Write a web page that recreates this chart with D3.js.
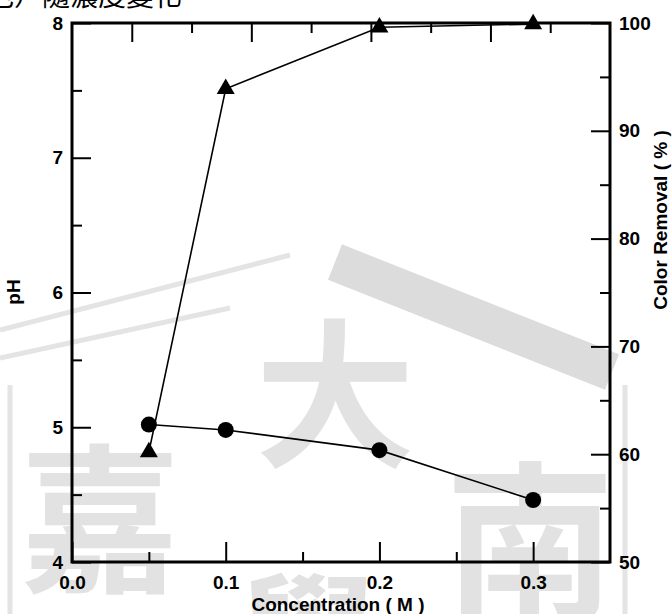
<!DOCTYPE html>
<html>
<head>
<meta charset="utf-8">
<script src="https://cdn.jsdelivr.net/npm/d3@7"></script>
<style>
  body { margin: 0; background: #fff; }
  svg { display: block; }
  .tick text { font-family: "Liberation Sans", Arial, sans-serif; font-weight: bold; font-size: 19px; fill: #000; }
  .tick line { stroke: #000; stroke-width: 2; }
  .domain { display: none; }
</style>
</head>
<body>
<svg id="chart" width="672" height="614"></svg>
<script>
// data
let conc = [0.05, 0.1, 0.2, 0.3];
let phVals = [5.02, 4.98, 4.83, 4.46];
let removalVals = [60.2, 93.9, 99.6, 99.9];

let xMajor = [0.0, 0.1, 0.2, 0.3];
let xMinor = [0.05, 0.15, 0.25];
let phMajor = [4, 5, 6, 7, 8];
let phMinor = [4.5, 5.5, 6.5, 7.5];
let remMajor = [50, 60, 70, 80, 90, 100];
let remMinor = [55, 65, 75, 85, 95];
let topMajor = [1, 3, 5, 7];
let topMinor = [2, 4, 6, 8];

const svg = d3.select("#chart");
const mLeft = 72, mRight = 610, mTop = 23, mBottom = 562;

// watermark (light grey logo behind the plot)
const wm = svg.append("g").attr("class", "watermark");
wm.append("line").attr("x1", 335).attr("y1", 262).attr("x2", 612).attr("y2", 372)
  .attr("stroke", "#dcdcdc").attr("stroke-width", 38);
wm.append("path").attr("d", "M0,330 L290,255").attr("stroke", "#e4e4e4").attr("stroke-width", 5).attr("fill", "none");
wm.append("path").attr("d", "M0,358 L230,308").attr("stroke", "#e4e4e4").attr("stroke-width", 5).attr("fill", "none");
wm.append("path").attr("d", "M10,385 L10,614").attr("stroke", "#e4e4e4").attr("stroke-width", 5).attr("fill", "none");
wm.append("path").attr("d", "M625,385 L625,614").attr("stroke", "#e4e4e4").attr("stroke-width", 5).attr("fill", "none");
const wmChars = [
  {t: "嘉", x: 100, y: 580, s: 160},
  {t: "大", x: 335, y: 455, s: 160},
  {t: "南", x: 530, y: 605, s: 170},
  {t: "學", x: 308, y: 700, s: 150}
];
wm.selectAll("text").data(wmChars).join("text")
  .attr("x", d => d.x).attr("y", d => d.y)
  .attr("text-anchor", "middle")
  .attr("font-family", "'Noto Sans CJK TC', sans-serif")
  .attr("font-weight", "bold")
  .attr("font-size", d => d.s)
  .attr("fill", "#e2e2e2")
  .text(d => d.t);

// cut off caption at the very top
svg.append("text").attr("x", 182).attr("y", 6)
  .attr("text-anchor", "end")
  .attr("font-family", "'Noto Sans CJK TC', sans-serif")
  .attr("font-size", 28)
  .text("色）隨濃度變化");

// scales
let x = d3.scaleLinear().domain([0, 0.35]).range([mLeft, mRight]);
let xTop = d3.scaleLinear().domain([0, 9]).range([mLeft, mRight]);
let yPh = d3.scaleLinear().domain([4, 8]).range([mBottom, mTop]);
let yRem = d3.scaleLinear().domain([50, 100]).range([mBottom, mTop]);

// axes
svg.append("g").attr("transform", `translate(0,${mBottom})`)
  .call(d3.axisBottom(x).tickValues(xMajor).tickSize(-20).tickPadding(14).tickFormat(d3.format(".1f")));
svg.append("g").attr("transform", `translate(0,${mBottom})`)
  .call(d3.axisBottom(x).tickValues(xMinor).tickSize(-10).tickFormat(""));
svg.append("g").attr("transform", `translate(0,${mTop})`)
  .call(d3.axisTop(xTop).tickValues(topMajor).tickSize(-19).tickFormat(""));
svg.append("g").attr("transform", `translate(0,${mTop})`)
  .call(d3.axisTop(xTop).tickValues(topMinor).tickSize(-10).tickFormat(""));
svg.append("g").attr("transform", `translate(${mLeft},0)`)
  .call(d3.axisLeft(yPh).tickValues(phMajor).tickSize(-19).tickPadding(9).tickFormat(d3.format("d")));
svg.append("g").attr("transform", `translate(${mLeft},0)`)
  .call(d3.axisLeft(yPh).tickValues(phMinor).tickSize(-10).tickFormat(""));
svg.append("g").attr("transform", `translate(${mRight},0)`)
  .call(d3.axisRight(yRem).tickValues(remMajor).tickSize(-19).tickPadding(9).tickFormat(d3.format("d")));
svg.append("g").attr("transform", `translate(${mRight},0)`)
  .call(d3.axisRight(yRem).tickValues(remMinor).tickSize(-10).tickFormat(""));

// frame
svg.append("rect").attr("x", mLeft).attr("y", mTop)
  .attr("width", mRight - mLeft).attr("height", mBottom - mTop)
  .attr("fill", "none").attr("stroke", "#000").attr("stroke-width", 3);

// axis titles
const titleFont = "'Liberation Sans Narrow', 'Liberation Sans', Arial, sans-serif";
svg.append("text").attr("x", 338).attr("y", 611)
  .attr("text-anchor", "middle").attr("font-family", titleFont)
  .attr("font-weight", "bold").attr("font-size", 19)
  .text("Concentration ( M )");
svg.append("text").attr("transform", "translate(20,292) rotate(-90)")
  .attr("text-anchor", "middle").attr("font-family", titleFont)
  .attr("font-weight", "bold").attr("font-size", 19)
  .text("pH");
svg.append("text").attr("transform", "translate(667,220) rotate(-90)")
  .attr("text-anchor", "middle").attr("font-family", titleFont)
  .attr("font-weight", "bold").attr("font-size", 19)
  .text("Color Removal ( % )");

// series
let phData = conc.map((c, i) => ({c: c, v: phVals[i]}));
let remData = conc.map((c, i) => ({c: c, v: removalVals[i]}));

svg.append("path").datum(phData)
  .attr("fill", "none").attr("stroke", "#000").attr("stroke-width", 1.6)
  .attr("d", d3.line().x(d => x(d.c)).y(d => yPh(d.v)));
svg.append("path").datum(remData)
  .attr("fill", "none").attr("stroke", "#000").attr("stroke-width", 1.6)
  .attr("d", d3.line().x(d => x(d.c)).y(d => yRem(d.v)));

svg.selectAll("circle.ph").data(phData).join("circle")
  .attr("class", "ph")
  .attr("cx", d => x(d.c)).attr("cy", d => yPh(d.v)).attr("r", 8)
  .attr("fill", "#000");

svg.selectAll("path.rem").data(remData).join("path")
  .attr("class", "rem")
  .attr("transform", d => `translate(${x(d.c)},${yRem(d.v)})`)
  .attr("d", d3.symbol().type(d3.symbolTriangle).size(140))
  .attr("fill", "#000");
</script>
</body>
</html>
